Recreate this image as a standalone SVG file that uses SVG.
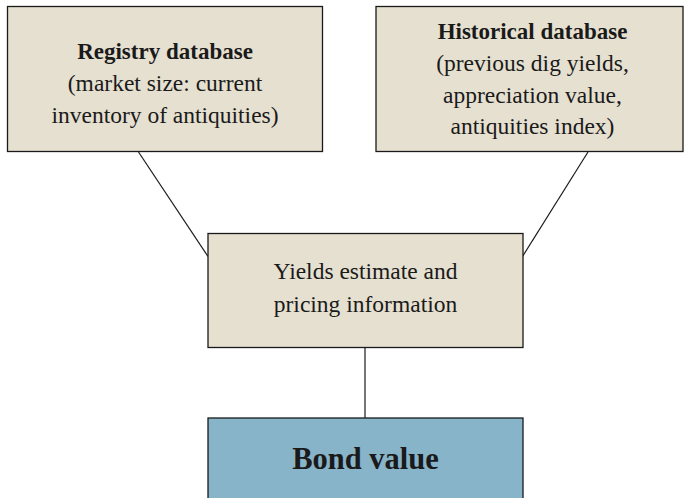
<svg xmlns="http://www.w3.org/2000/svg" width="685" height="498" viewBox="0 0 685 498">
<style>
.box{fill:#E6E0D0;stroke:#1a1a1a;stroke-width:1.3}
.blue{fill:#88B4CA;stroke:#1a1a1a;stroke-width:1.3}
text{font-family:"Liberation Serif","Times New Roman",serif;fill:#1a1a1a;text-anchor:middle;font-size:23.5px}
.b{font-weight:bold;font-size:23px}
.big{font-weight:bold;font-size:30.5px}
.conn line{stroke:#1a1a1a;stroke-width:1.2}
</style>
<rect x="0" y="0" width="685" height="498" fill="#fff"/>
<g class="conn" id="connectors">
<line x1="138.5" y1="152" x2="208" y2="256.5"/>
<line x1="588" y1="152" x2="522.5" y2="256.5"/>
<line x1="365" y1="347" x2="365" y2="418"/>
</g>
<g id="registry">
<rect class="box" x="7.5" y="6.5" width="315" height="145"/>
<text x="165" y="59" class="b">Registry database</text>
<text x="165" y="91">(market size: current</text>
<text x="165" y="123">inventory of antiquities)</text>
</g>
<g id="historical">
<rect class="box" x="376" y="6.5" width="307" height="145"/>
<text x="532.5" y="39" class="b">Historical database</text>
<text x="532.5" y="71">(previous dig yields,</text>
<text x="532.5" y="103">appreciation value,</text>
<text x="532.5" y="134">antiquities index)</text>
</g>
<g id="yields">
<rect class="box" x="208" y="233.5" width="315" height="114"/>
<text x="365.5" y="279">Yields estimate and</text>
<text x="365.5" y="312">pricing information</text>
</g>
<g id="bond">
<rect class="blue" x="208" y="418" width="315" height="90"/>
<text x="365.5" y="469" class="big">Bond value</text>
</g>
</svg>
